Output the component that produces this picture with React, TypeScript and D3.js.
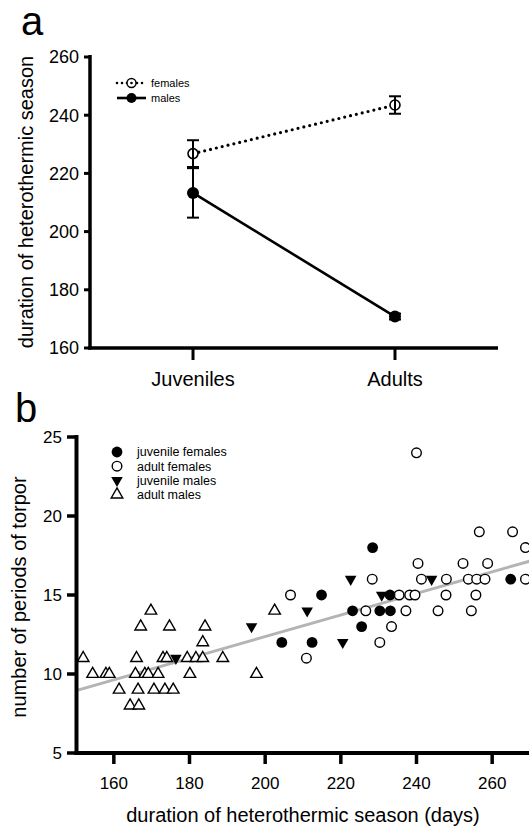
import React from "react";
import * as d3 from "d3";

const W = 529;
const H = 831;
const FONT = "'Liberation Sans', Arial, Helvetica, sans-serif";

// panel a: mean duration of heterothermic season (+/- SE)
const ageGroups = ["Juveniles", "Adults"];
const femaleMean = [226.8, 243.5];
const femaleErr = [4.6, 3.0];
const maleMean = [213.3, 170.8];
const maleErr = [8.5, 1.0];
const durationTicks = [160, 180, 200, 220, 240, 260];

// panel b: number of torpor periods vs season length [days, periods]
const juvenileFemales = [
  [204.4, 12], [212.4, 12], [214.9, 15], [223.1, 14], [225.5, 13],
  [228.4, 18], [230.3, 14], [233.1, 14], [233.0, 15], [264.9, 16],
];
const adultFemales = [
  [206.7, 15], [210.9, 11], [226.6, 14], [228.3, 16], [230.3, 12],
  [233.4, 13], [235.4, 15], [237.2, 14], [238.2, 15], [239.6, 15],
  [240.0, 24], [240.4, 17], [241.3, 16], [245.7, 14], [247.8, 15],
  [247.9, 16], [252.3, 17], [253.7, 16], [254.5, 14], [255.7, 15],
  [255.9, 16], [256.6, 19], [258.1, 16], [258.8, 17], [265.4, 19],
  [268.8, 18], [268.8, 16],
];
const juvenileMales = [
  [176.4, 11], [196.4, 13], [211.1, 14], [220.5, 12], [222.6, 16],
  [230.8, 15], [244.0, 16],
];
const adultMales = [
  [151.9, 11], [154.4, 10], [157.9, 10], [158.8, 10], [161.4, 9],
  [164.3, 8], [166.6, 8], [165.7, 10], [166.0, 11], [166.4, 9],
  [167.1, 13], [168.2, 10], [169.1, 10], [169.8, 14], [170.6, 9],
  [171.7, 10], [173.0, 11], [174.0, 11], [173.5, 9], [174.7, 13],
  [175.7, 9], [179.4, 11], [180.1, 10], [181.7, 11], [183.5, 11],
  [183.5, 12], [184.1, 13], [188.8, 11], [197.7, 10], [202.5, 14],
];
const trendLine = [[150, 8.95], [270, 17.15]];
const torporTicks = [5, 10, 15, 20, 25];
const seasonTicks = [160, 180, 200, 220, 240, 260];

const legendB = ["juvenile females", "adult females", "juvenile males", "adult males"];

export default function App() {
  // scales panel a
  const xA = d3.scalePoint<string>().domain(ageGroups).range([90, 498]).padding(0.51);
  const yA = d3.scaleLinear().domain([160, 260]).range([348, 57]);
  // scales panel b
  const xB = d3.scaleLinear().domain([150, 270]).range([76, 530]);
  const yB = d3.scaleLinear().domain([5, 25]).range([753, 437]);

  const lineA = d3.line<number>().x((_, i) => xA(ageGroups[i]) as number).y((d) => yA(d));
  const lineB = d3.line<number[]>().x((d) => xB(d[0])).y((d) => yB(d[1]));

  const tri = d3.symbol().type(d3.symbolTriangle).size(58)() as string;

  const upTri = (x: number, y: number, k: string) => (
    <path key={k} d={tri} transform={`translate(${x},${y})`} fill="white" stroke="black" strokeWidth={1.4} />
  );
  const downTri = (x: number, y: number, k: string) => (
    <path key={k} d={tri} transform={`translate(${x},${y}) rotate(180)`} fill="black" />
  );
  const openDot = (x: number, y: number, k: string) => (
    <circle key={k} cx={x} cy={y} r={4.8} fill="white" stroke="black" strokeWidth={1.4} />
  );
  const fullDot = (x: number, y: number, k: string) => (
    <circle key={k} cx={x} cy={y} r={5.4} fill="black" />
  );

  const errBar = (i: number, m: number[], e: number[], k: string) => {
    const x = xA(ageGroups[i]) as number;
    const top = yA(m[i] + e[i]);
    const bot = yA(m[i] - e[i]);
    return (
      <g key={k} stroke="black" strokeWidth={2}>
        <line x1={x} x2={x} y1={top} y2={bot} />
        <line x1={x - 6} x2={x + 6} y1={top} y2={top} />
        <line x1={x - 6} x2={x + 6} y1={bot} y2={bot} />
      </g>
    );
  };

  return (
    <svg width={W} height={H} style={{ position: "absolute", left: 0, top: 0, background: "white" }} fontFamily={FONT}>
      {/* ---------- panel a ---------- */}
      <text x={21} y={35} fontSize={40}>a</text>
      <text transform={`translate(33,202) rotate(-90)`} textAnchor="middle" fontSize={20}>
        duration of heterothermic season
      </text>

      <line x1={90} x2={90} y1={55} y2={349.5} stroke="black" strokeWidth={3.5} />
      <line x1={88} x2={498} y1={348} y2={348} stroke="black" strokeWidth={3.5} />
      {durationTicks.map((t) => (
        <g key={"ya" + t}>
          <line x1={84} x2={90} y1={yA(t)} y2={yA(t)} stroke="black" strokeWidth={3} />
          <text x={79} y={yA(t)} dy="0.35em" textAnchor="end" fontSize={18}>{t}</text>
        </g>
      ))}
      {ageGroups.map((g) => (
        <g key={"xa" + g}>
          <line x1={xA(g)} x2={xA(g)} y1={348} y2={360} stroke="black" strokeWidth={3} />
          <text x={xA(g)} y={386} textAnchor="middle" fontSize={20}>{g}</text>
        </g>
      ))}

      <path d={lineA(femaleMean) as string} fill="none" stroke="black" strokeWidth={3.2}
        strokeDasharray="0 6" strokeLinecap="round" />
      <path d={lineA(maleMean) as string} fill="none" stroke="black" strokeWidth={2.6} />
      {femaleMean.map((m, i) => (
        <circle key={"fm" + i} cx={xA(ageGroups[i])} cy={yA(m)} r={5} fill="white" stroke="black" strokeWidth={1.6} />
      ))}
      {femaleMean.map((_, i) => errBar(i, femaleMean, femaleErr, "fe" + i))}
      {maleMean.map((_, i) => errBar(i, maleMean, maleErr, "me" + i))}
      {maleMean.map((m, i) => (
        <circle key={"mm" + i} cx={xA(ageGroups[i])} cy={yA(m)} r={6} fill="black" />
      ))}

      {/* legend a */}
      <line x1={117} x2={146} y1={83} y2={83} stroke="black" strokeWidth={2.6} strokeDasharray="0 5" strokeLinecap="round" />
      <circle cx={131.5} cy={83} r={4.5} fill="white" stroke="black" strokeWidth={1.4} />
      <circle cx={131.5} cy={83} r={1.3} fill="black" />
      <text x={151} y={83} dy="0.35em" fontSize={11}>females</text>
      <line x1={117} x2={146} y1={98} y2={98} stroke="black" strokeWidth={2.6} />
      <circle cx={131.5} cy={98} r={5} fill="black" />
      <text x={151} y={98} dy="0.35em" fontSize={11}>males</text>

      {/* ---------- panel b ---------- */}
      <text x={15} y={422} fontSize={40}>b</text>
      <text transform={`translate(26,597) rotate(-90)`} textAnchor="middle" fontSize={20}>
        number of periods of torpor
      </text>

      <path d={lineB(trendLine) as string} fill="none" stroke="#b4b4b4" strokeWidth={3} />

      {adultMales.map((d, i) => upTri(xB(d[0]), yB(d[1]), "am" + i))}
      {juvenileMales.map((d, i) => downTri(xB(d[0]), yB(d[1]), "jm" + i))}
      {adultFemales.map((d, i) => openDot(xB(d[0]), yB(d[1]), "af" + i))}
      {juvenileFemales.map((d, i) => fullDot(xB(d[0]), yB(d[1]), "jf" + i))}

      <line x1={76.5} x2={76.5} y1={435} y2={755} stroke="black" strokeWidth={4} />
      <line x1={74.5} x2={529} y1={753} y2={753} stroke="black" strokeWidth={4} />
      {torporTicks.map((t) => (
        <g key={"yb" + t}>
          <line x1={67} x2={77} y1={yB(t)} y2={yB(t)} stroke="black" strokeWidth={3.5} />
          <text x={62} y={yB(t)} dy="0.35em" textAnchor="end" fontSize={17}>{t}</text>
        </g>
      ))}
      {seasonTicks.map((t) => (
        <g key={"xb" + t}>
          <line x1={xB(t)} x2={xB(t)} y1={753} y2={764} stroke="black" strokeWidth={3.5} />
          <text x={xB(t)} y={789} textAnchor="middle" fontSize={17}>{t}</text>
        </g>
      ))}
      <text x={303} y={822} textAnchor="middle" fontSize={20}>
        duration of heterothermic season (days)
      </text>

      {/* legend b */}
      {legendB.map((name, i) => {
        const y = 452 + i * 14.2;
        const sym =
          i === 0 ? fullDot(117, y, "lb" + i)
          : i === 1 ? openDot(117, y, "lb" + i)
          : i === 2 ? downTri(117, y, "lb" + i)
          : upTri(117, y, "lb" + i);
        return (
          <g key={"leg" + name}>
            {sym}
            <text x={137} y={y} dy="0.35em" fontSize={12.5}>{name}</text>
          </g>
        );
      })}
    </svg>
  );
}
